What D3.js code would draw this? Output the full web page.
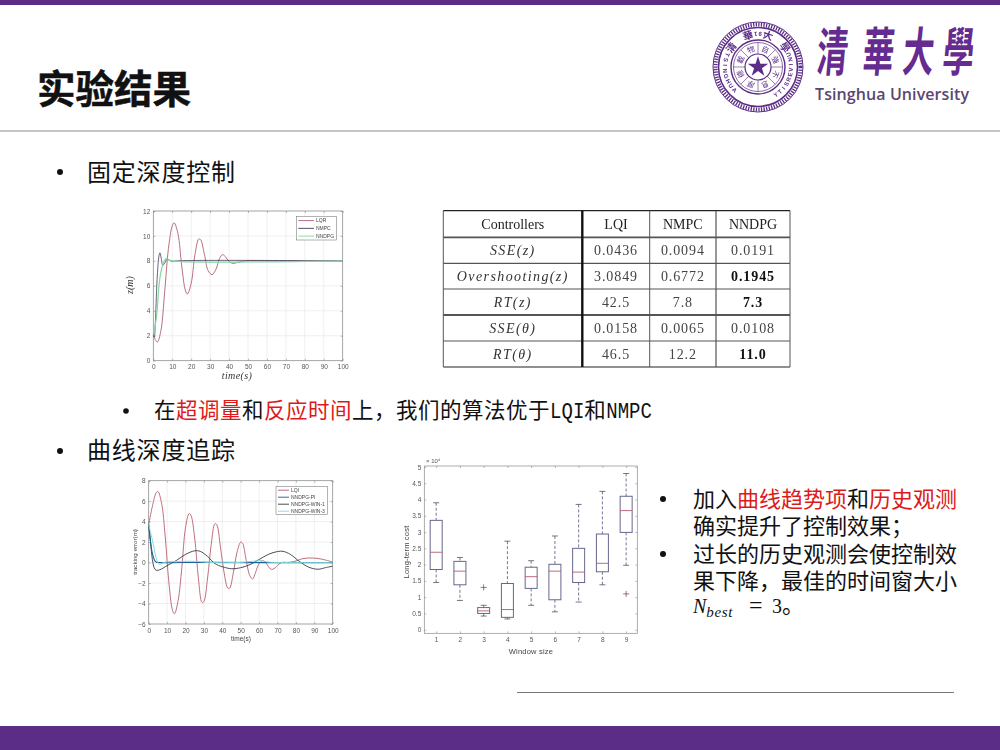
<!DOCTYPE html>
<html>
<head>
<meta charset="utf-8">
<script src="https://cdn.jsdelivr.net/npm/d3@7"></script>
<style>
  html, body { margin: 0; padding: 0; background: #fff; }
  svg { display: block; }
  text { font-family: "Noto Sans CJK SC", "Noto Sans", sans-serif; }
  .tick text, .small { font-family: "Liberation Sans", sans-serif; }
  .serif { font-family: "Liberation Serif", serif; }
  .mono { font-family: "Liberation Mono", monospace; }
  .soft { filter: blur(0.3px); }
</style>
</head>
<body>
<svg id="slide" width="1000" height="750"></svg>
<script>
const purple = '#5b2d86';

// fixed depth chart, [time, z]
const depthLqi = [[0,2.1],[1,1.7],[2.2,1.5],[4,2.4],[6,5.5],[8,9],[10,10.8],[11,11.05],[13,10.2],[15,7.6],[17,5.6],[18,5.35],[20,6.2],[22,8.5],[24,9.75],[25,9.7],[27,8.5],[29,7.2],[31,6.9],[33,7.3],[35,8.2],[36.5,8.5],[38,8.35],[40,7.95],[42,7.8],[45,7.9],[50,8.02],[60,8],[100,8]];
const depthNmpc = [[0,2],[0.5,1.9],[1,2.8],[2,6.5],[3,8.4],[3.5,8.65],[4.2,8.2],[5,7.65],[6,7.8],[7,8.1],[8,8.1],[10,7.95],[12,8],[100,8]];
const depthNndpg = [[0,2.2],[1,2.8],[2,4],[3,6],[4,7.1],[5,7.7],[6,8.05],[7,8.2],[8,8.1],[10,8],[100,8]];

// curve tracking chart, [time, error]
const trackLqi = [[0,3.7],[2,5.5],[4,6.8],[5,6.95],[7,5.8],[9,2.5],[11,-2],[13,-4.7],[14,-5],[16,-3.7],[18,-0.5],[20,3.4],[22,4.8],[23,4.6],[25,2.4],[27,-1.5],[29,-3.9],[30,-3.8],[32,-1.5],[34,1.8],[36,3.8],[37,3.7],[39,1.5],[41,-1],[43,-2.5],[44,-2.5],[46,-1],[48,1],[50,2],[51,1.9],[53,0.2],[55,-1.3],[56.5,-1.6],[58,-1],[60,-0.1],[62,0.2],[64,-0.1],[66,-0.6],[67.5,-0.65],[70,-0.3],[72,0],[76,0.02],[80,0.15],[83,0.35],[87,0.45],[92,0.4],[96,0.25],[100,0.05]];
const trackPi = [[0,3.7],[1,2],[2,0.3],[3,-0.5],[4,-0.75],[6,-0.7],[10,-0.3],[15,0.2],[20,0.8],[25,1.15],[28,1.1],[32,0.6],[36,-0.1],[40,-0.4],[45,-0.6],[50,-0.5],[55,-0.2],[60,0.3],[65,0.8],[70,1.08],[73,1.1],[77,0.8],[82,0.1],[87,-0.45],[92,-0.65],[96,-0.5],[100,-0.35]];
const trackWin1 = [[0,3.7],[1,2],[2,0.9],[3,0.3],[4,0.05],[6,0],[30,0.02],[60,0],[100,0]];
const trackWin3 = [[0,3.7],[2,2.2],[4,0.5],[5,0],[6,-0.2],[7,-0.1],[9,0.05],[15,0.1],[25,0.12],[35,0],[50,0.02],[61,0.18],[65,0.05],[80,0],[100,0]];

// window size boxes, in units of 10^4
const windowSizes = [1, 2, 3, 4, 5, 6, 7, 8, 9];
const whiskerLow = [1.45, 0.9, 0.42, 0.33, 0.75, 0.55, 0.85, 1.38, 1.98];
const quartile1 = [1.85, 1.38, 0.5, 0.38, 1.27, 0.92, 1.45, 1.78, 2.99];
const medians = [2.38, 1.8, 0.58, 0.62, 1.63, 1.8, 1.77, 2.04, 3.66];
const quartile3 = [3.36, 2.1, 0.68, 1.42, 1.92, 2.01, 2.5, 2.94, 4.1];
const whiskerHigh = [3.9, 2.22, 0.75, 2.72, 2.12, 2.88, 3.85, 4.25, 4.8];
const outliers = [[3, 1.3], [9, 1.1]];

// results table
const tableHeader = ['Controllers', 'LQI', 'NMPC', 'NNDPG'];
const tableMetrics = ['SSE(z)', 'Overshooting(z)', 'RT(z)', 'SSE(θ)', 'RT(θ)'];
const tableLqi = ['0.0436', '3.0849', '42.5', '0.0158', '46.5'];
const tableNmpc = ['0.0094', '0.6772', '7.8', '0.0065', '12.2'];
const tableNndpg = ['0.0191', '0.1945', '7.3', '0.0108', '11.0'];
const tableBold = ['0.1945', '7.3', '11.0'];

// logo lettering
const sealTop = ['清', '華', '大', '學'];
const sealInner = ['自', '強', '不', '息', '厚', '德', '載', '物'];
const sealLeft = 'TSINGHUA'.split('');
const sealRight = 'UNIVERSITY'.split('');
const sealYear = '1911'.split('');
const wordmark = ['清', '華', '大', '學'];

const svg = d3.select('#slide');

function renderFrame() {
  svg.append('rect').attr('width', 1000).attr('height', 5).attr('fill', purple);
  svg.append('rect').attr('y', 726).attr('width', 1000).attr('height', 24).attr('fill', purple);
  svg.append('line').attr('x1', 0).attr('x2', 1000).attr('y1', 131).attr('y2', 131)
    .attr('stroke', '#8c8c8c').attr('stroke-width', 1);
  svg.append('line').attr('x1', 517).attr('x2', 954).attr('y1', 692.5).attr('y2', 692.5)
    .attr('stroke', '#777').attr('stroke-width', 1);
  svg.append('text').attr('x', 37).attr('y', 103).text('实验结果')
    .attr('font-size', 38.5).attr('font-weight', 700).attr('fill', '#111')
    .attr('stroke', '#111').attr('stroke-width', 0.5);
}

function addLine(x, y, parts, size, spacing) {
  const t = svg.append('text').attr('x', x).attr('y', y)
    .attr('font-size', size).attr('letter-spacing', spacing || 0).attr('fill', '#111');
  parts.forEach(p => {
    const span = t.append('tspan').text(p[0]).attr('fill', p[1] ? '#dd1a1a' : '#111');
    // the latin words are tall and narrow on the slide
    if (p[2]) {
      span.attr('class', 'mono').attr('font-size', 22).attr('letter-spacing', 0)
        .attr('textLength', p[0].length * 11.4).attr('lengthAdjust', 'spacingAndGlyphs');
    }
  });
}

function renderText() {
  [[60, 172], [60, 451], [663, 499], [663, 554]].forEach(d => {
    svg.append('circle').attr('cx', d[0]).attr('cy', d[1]).attr('r', 3).attr('fill', '#111');
  });
  svg.append('circle').attr('cx', 126).attr('cy', 411).attr('r', 2.8).attr('fill', '#111');

  addLine(87, 181, [['固定深度控制']], 24, 0.8);
  addLine(87, 459, [['曲线深度追踪']], 24, 0.8);
  addLine(154, 418, [['在'], ['超调量', 1], ['和'], ['反应时间', 1], ['上，我们的算法优于'], ['LQI', 0, 1], ['和'], ['NMPC', 0, 1]], 21.5, 0.5);
  addLine(693, 507, [['加入'], ['曲线趋势项', 1], ['和'], ['历史观测', 1]], 22);
  addLine(693, 534, [['确实提升了控制效果；']], 22);
  addLine(693, 562, [['过长的历史观测会使控制效']], 22);
  addLine(693, 589, [['果下降，最佳的时间窗大小']], 22);

  const formula = svg.append('text').attr('y', 613).attr('fill', '#111').attr('class', 'serif');
  formula.append('tspan').attr('x', 693).text('N').attr('font-style', 'italic').attr('font-size', 20);
  formula.append('tspan').text('best').attr('font-style', 'italic').attr('font-size', 15).attr('dy', 4).attr('letter-spacing', 0.6);
  formula.append('tspan').attr('x', 749).attr('dy', -4).text('=').attr('font-size', 24);
  formula.append('tspan').attr('x', 772).text('3').attr('font-size', 20);
  svg.append('text').attr('x', 782).attr('y', 613).attr('font-size', 22).attr('fill', '#111').text('。');
}

function ringText(g, chars, radius, startDeg, stepDeg, size, bottom, cls, weight) {
  chars.forEach((c, i) => {
    const a = startDeg + i * stepDeg;
    const rad = a * Math.PI / 180;
    const px = radius * Math.sin(rad);
    const py = -radius * Math.cos(rad);
    const t = g.append('text').text(c).attr('text-anchor', 'middle').attr('dy', '0.35em')
      .attr('font-size', size).attr('font-weight', weight || 400).attr('fill', purple)
      .attr('transform', `translate(${px},${py}) rotate(${bottom ? a + 180 : a})`);
    if (cls) t.attr('class', cls);
  });
}

function renderLogo() {
  const logo = svg.append('g').attr('transform', 'translate(758,67)').attr('class', 'soft');
  [[45, 1], [39.5, 1.6], [27, 1.4], [24.5, 0.7], [13, 1.2]].forEach(d => {
    logo.append('circle').attr('r', d[0]).attr('fill', 'none').attr('stroke', purple).attr('stroke-width', d[1]);
  });
  logo.append('circle').attr('r', 42.5).attr('fill', 'none').attr('stroke', purple)
    .attr('stroke-width', 4).attr('stroke-dasharray', '1.3 1.3');
  logo.append('path').attr('d', d3.symbol(d3.symbolStar, 130)()).attr('fill', purple);
  d3.range(8).forEach(i => {
    const a = i * Math.PI / 4;
    logo.append('line').attr('x1', 13 * Math.sin(a)).attr('y1', -13 * Math.cos(a))
      .attr('x2', 24.5 * Math.sin(a)).attr('y2', -24.5 * Math.cos(a))
      .attr('stroke', purple).attr('stroke-width', 0.6);
  });
  ringText(logo, sealInner, 18.7, 22.5, 45, 7.5, false);
  ringText(logo, sealTop, 33, -54, 36, 10, false, null, 700);
  ringText(logo, sealLeft, 33, -68, -9.5, 6, true, 'small', 700);
  ringText(logo, sealRight, 33, 68, 8.8, 6, true, 'small', 700);
  ringText(logo, sealYear, 33, 12, -8, 6, true, 'small', 700);

  const xs = [831, 877, 917, 957];
  wordmark.forEach((c, i) => {
    svg.append('text').text(c).attr('text-anchor', 'middle')
      .attr('transform', `translate(${xs[i]},71) skewX(-5) scale(0.82,1.38)`)
      .attr('font-size', 38).attr('font-weight', 700).attr('fill', '#662b90');
  });
  svg.append('text').attr('x', 815).attr('y', 100).text('Tsinghua University')
    .style('font-family', '"Open Sans", sans-serif').attr('font-weight', 600)
    .attr('font-size', 16).attr('fill', '#5a4670').attr('textLength', 154);
}

// small matlab style axes; box gives the plot rectangle on the slide
function makeAxes(box, xDomain, yDomain, xTicks, yTicks, yFormat, grid) {
  const x = d3.scaleLinear().domain(xDomain).range([box.left, box.right]);
  const y = d3.scaleLinear().domain(yDomain).range([box.bottom, box.top]);
  const g = svg.append('g').attr('class', 'soft');

  if (grid) {
    g.selectAll('.gx').data(xTicks).enter().append('line')
      .attr('x1', d => x(d)).attr('x2', d => x(d)).attr('y1', box.top).attr('y2', box.bottom)
      .attr('stroke', '#e4e4e4').attr('stroke-width', 0.6);
    g.selectAll('.gy').data(yTicks).enter().append('line')
      .attr('x1', box.left).attr('x2', box.right).attr('y1', d => y(d)).attr('y2', d => y(d))
      .attr('stroke', '#e4e4e4').attr('stroke-width', 0.6);
  }

  const xAxis = g.append('g').attr('transform', `translate(0,${box.bottom})`)
    .call(d3.axisBottom(x).tickValues(xTicks).tickSize(-2).tickPadding(4));
  const yAxis = g.append('g').attr('transform', `translate(${box.left},0)`)
    .call(d3.axisLeft(y).tickValues(yTicks).tickSize(-2).tickPadding(3).tickFormat(yFormat || d3.format('d')));
  const topAxis = g.append('g').attr('transform', `translate(0,${box.top})`)
    .call(d3.axisTop(x).tickValues(xTicks).tickSize(-2).tickFormat(''));
  const rightAxis = g.append('g').attr('transform', `translate(${box.right},0)`)
    .call(d3.axisRight(y).tickValues(yTicks).tickSize(-2).tickFormat(''));
  [xAxis, yAxis, topAxis, rightAxis].forEach(a => {
    a.selectAll('text').attr('font-size', 6.5).attr('fill', '#555');
    a.selectAll('line').attr('stroke', '#777').attr('stroke-width', 0.5);
    a.select('.domain').remove();
  });
  g.append('rect').attr('x', box.left).attr('y', box.top)
    .attr('width', box.right - box.left).attr('height', box.bottom - box.top)
    .attr('fill', 'none').attr('stroke', '#8a8a8a').attr('stroke-width', 0.7);
  return { x, y, g };
}

function drawSeries(axes, values, color, width) {
  const line = d3.line().x(d => axes.x(d[0])).y(d => axes.y(d[1])).curve(d3.curveCatmullRom.alpha(0.5));
  axes.g.append('path').datum(values).attr('d', line)
    .attr('fill', 'none').attr('stroke', color).attr('stroke-width', width || 0.9);
}

function drawLegend(box, labels, colors, textX) {
  const g = svg.append('g').attr('class', 'soft');
  g.append('rect').attr('x', box.x).attr('y', box.y).attr('width', box.w).attr('height', box.h)
    .attr('fill', '#fff').attr('stroke', '#666').attr('stroke-width', 0.5);
  const rowH = box.h / labels.length;
  labels.forEach((label, i) => {
    const cy = box.y + rowH * (i + 0.5);
    g.append('line').attr('x1', box.x + 2).attr('x2', textX - 2).attr('y1', cy).attr('y2', cy)
      .attr('stroke', colors[i]).attr('stroke-width', 0.9);
    g.append('text').attr('class', 'small').attr('x', textX).attr('y', cy + 1.8)
      .attr('font-size', 5).attr('fill', '#444').text(label);
  });
}

function renderDepthChart() {
  const box = { left: 153.3, right: 342.7, top: 211, bottom: 360.7 };
  const axes = makeAxes(box, [0, 100], [0, 12], d3.range(0, 101, 10), d3.range(0, 13, 2), null, true);
  const colors = ['#b0606e', '#3d3d5e', '#86d6a2'];
  drawSeries(axes, depthLqi, colors[0]);
  drawSeries(axes, depthNmpc, colors[1], 0.8);
  drawSeries(axes, depthNndpg, colors[2], 1.2);
  drawLegend({ x: 296.3, y: 216.7, w: 40.4, h: 23.3 }, ['LQR', 'NMPC', 'NNDPG'], colors, 316);
  axes.g.append('text').attr('class', 'serif').attr('x', 237).attr('y', 379).attr('text-anchor', 'middle')
    .attr('font-size', 10).attr('font-style', 'italic').attr('letter-spacing', 0.4).attr('fill', '#333').text('time(s)');
  axes.g.append('text').attr('class', 'serif').attr('transform', 'translate(133,285) rotate(-90)')
    .attr('text-anchor', 'middle').attr('font-size', 10).attr('font-style', 'italic').attr('fill', '#333').text('z(m)');
}

function renderTrackChart() {
  const box = { left: 148.7, right: 332.7, top: 480.7, bottom: 624 };
  const axes = makeAxes(box, [0, 100], [-6, 8], d3.range(0, 101, 10), d3.range(-6, 9, 2), null, true);
  const colors = ['#b8606e', '#1f5f96', '#333a44', '#7fdad6'];
  drawSeries(axes, trackLqi, colors[0]);
  drawSeries(axes, trackPi, colors[2]);
  drawSeries(axes, trackWin1, colors[1], 1.1);
  drawSeries(axes, trackWin3, colors[3], 1);
  drawLegend({ x: 276, y: 486.7, w: 51.3, h: 28 }, ['LQI', 'NNDPG-PI', 'NNDPG-WIN-1', 'NNDPG-WIN-3'], colors, 291);
  axes.g.append('text').attr('class', 'small').attr('x', 241).attr('y', 641).attr('text-anchor', 'middle')
    .attr('font-size', 6.5).attr('fill', '#444').text('time(s)');
  axes.g.append('text').attr('class', 'small').attr('transform', 'translate(137,552) rotate(-90)')
    .attr('text-anchor', 'middle').attr('font-size', 6.2).attr('fill', '#444').text('tracking error(m)');
}

function renderBoxChart() {
  const box = { left: 424.3, right: 637.3, top: 466, bottom: 633.3 };
  const axes = makeAxes(box, [0.5, 9.47], [-0.11, 5.03], windowSizes, d3.range(0, 5.01, 0.5), d3.format('~g'), false);
  const { x, y, g } = axes;
  const boxWidth = 12;
  const stroke = '#66668e';

  windowSizes.forEach((w, i) => {
    const cx = x(w);
    g.append('line').attr('x1', cx).attr('x2', cx).attr('y1', y(whiskerHigh[i])).attr('y2', y(quartile3[i]))
      .attr('stroke', stroke).attr('stroke-width', 0.9).attr('stroke-dasharray', '3 2');
    g.append('line').attr('x1', cx).attr('x2', cx).attr('y1', y(quartile1[i])).attr('y2', y(whiskerLow[i]))
      .attr('stroke', stroke).attr('stroke-width', 0.9).attr('stroke-dasharray', '3 2');
    [whiskerLow[i], whiskerHigh[i]].forEach(v => {
      g.append('line').attr('x1', cx - 3).attr('x2', cx + 3).attr('y1', y(v)).attr('y2', y(v))
        .attr('stroke', '#555').attr('stroke-width', 0.8);
    });
    g.append('rect').attr('x', cx - boxWidth / 2).attr('width', boxWidth)
      .attr('y', y(quartile3[i])).attr('height', y(quartile1[i]) - y(quartile3[i]))
      .attr('fill', 'none').attr('stroke', stroke).attr('stroke-width', 1);
    g.append('line').attr('x1', cx - boxWidth / 2).attr('x2', cx + boxWidth / 2)
      .attr('y1', y(medians[i])).attr('y2', y(medians[i]))
      .attr('stroke', '#b85a72').attr('stroke-width', 0.9);
  });

  g.selectAll('.outlier').data(outliers).enter().append('path')
    .attr('transform', d => `translate(${x(d[0])},${y(d[1])})`)
    .attr('d', d3.symbol(d3.symbolPlus, 14)())
    .attr('fill', 'none').attr('stroke', '#8a4a66').attr('stroke-width', 0.8);

  g.append('text').attr('class', 'small').attr('x', 426).attr('y', 463).attr('font-size', 6).attr('fill', '#555').text('× 10⁴');
  g.append('text').attr('class', 'small').attr('x', 531).attr('y', 654).attr('text-anchor', 'middle')
    .attr('font-size', 7.5).attr('letter-spacing', 0.2).attr('fill', '#444').text('Window size');
  g.append('text').attr('class', 'small').attr('transform', 'translate(409,552) rotate(-90)')
    .attr('text-anchor', 'middle').attr('font-size', 7.5).attr('letter-spacing', 0.2).attr('fill', '#444').text('Long-term cost');
}

function renderTable() {
  const colEdges = [443.3, 582.3, 649.7, 716, 790];
  const rowEdges = [210.7, 237.3, 263.3, 289, 315, 341, 367];
  const g = svg.append('g').attr('class', 'soft');
  const cx = i => (colEdges[i] + colEdges[i + 1]) / 2;
  const cy = i => (rowEdges[i] + rowEdges[i + 1]) / 2 + 4.5;

  g.selectAll('.head').data(tableHeader).enter().append('text')
    .attr('class', 'serif').attr('x', (d, i) => cx(i)).attr('y', cy(0))
    .attr('text-anchor', 'middle').attr('font-size', 14).attr('fill', '#222').text(d => d);

  g.selectAll('.metric').data(tableMetrics).enter().append('text')
    .attr('class', 'serif').attr('x', cx(0)).attr('y', (d, i) => cy(i + 1))
    .attr('text-anchor', 'middle').attr('font-size', 14).attr('font-style', 'italic')
    .attr('letter-spacing', 1.4).attr('fill', '#333').text(d => d);

  [tableLqi, tableNmpc, tableNndpg].forEach((col, c) => {
    g.selectAll('.val' + c).data(col).enter().append('text')
      .attr('class', 'serif').attr('x', cx(c + 1)).attr('y', (d, i) => cy(i + 1))
      .attr('text-anchor', 'middle').attr('font-size', 14).attr('letter-spacing', 0.9)
      .attr('font-weight', d => c === 2 && tableBold.includes(d) ? 700 : 400)
      .attr('fill', d => c === 2 && tableBold.includes(d) ? '#111' : '#444').text(d => d);
  });

  const rowWidths = [1.2, 1.8, 1.2, 1.2, 1.8, 1.2, 1.2];
  g.selectAll('.row').data(rowEdges).enter().append('line')
    .attr('x1', colEdges[0]).attr('x2', colEdges[4]).attr('y1', d => d).attr('y2', d => d)
    .attr('stroke', (d, i) => i === 0 || i === 6 ? '#222' : '#555').attr('stroke-width', (d, i) => rowWidths[i]);
  const colWidths = [1, 2.4, 1, 1.2, 1];
  g.selectAll('.col').data(colEdges).enter().append('line')
    .attr('y1', rowEdges[0]).attr('y2', rowEdges[6]).attr('x1', d => d).attr('x2', d => d)
    .attr('stroke', (d, i) => i === 1 ? '#111' : '#555').attr('stroke-width', (d, i) => colWidths[i]);
}

renderFrame();
renderText();
renderLogo();
renderDepthChart();
renderTable();
renderTrackChart();
renderBoxChart();
</script>
</body>
</html>
